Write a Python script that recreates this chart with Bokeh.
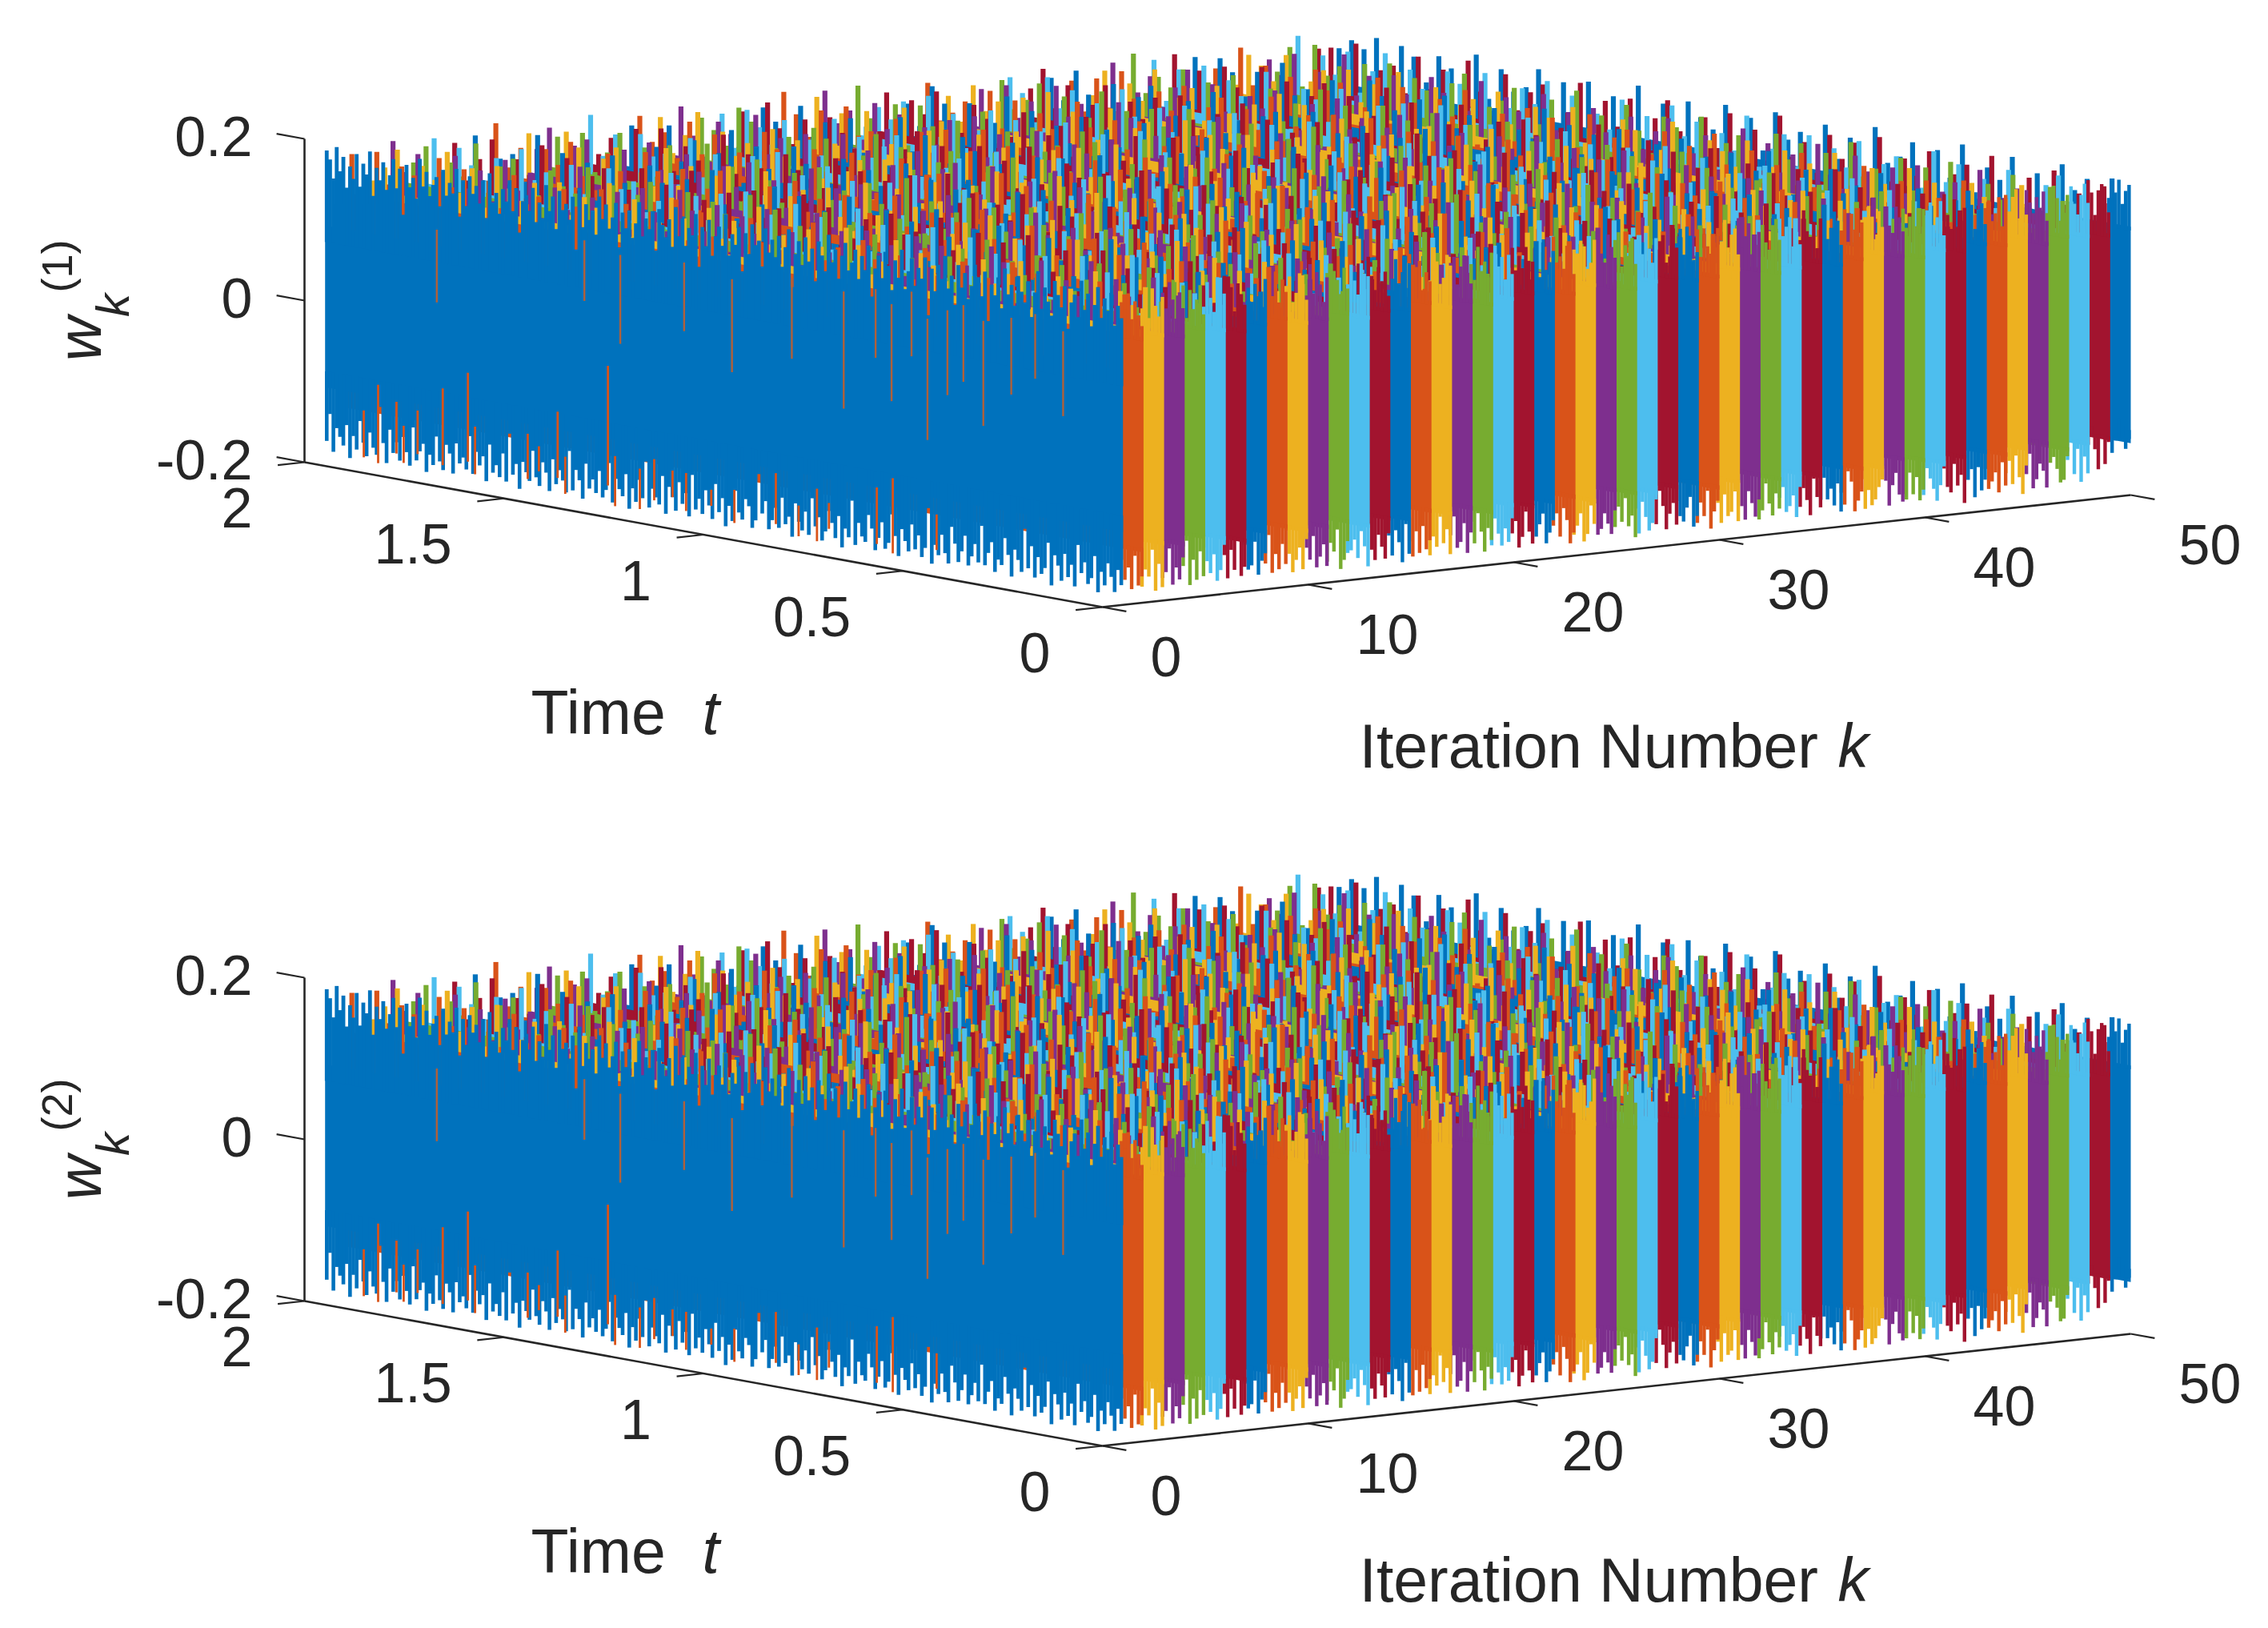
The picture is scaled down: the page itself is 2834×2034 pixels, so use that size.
from math import pi
from bokeh.plotting import figure
from bokeh.embed import file_html
from bokeh.resources import INLINE
from bokeh.core.properties import value

# --- data: hand estimates ---
series_colors = ["#0072BD", "#D95319", "#EDB120", "#7E2F8E", "#77AC30", "#4DBEEE", "#A2142F"]
k_ticks = [0, 10, 20, 30, 40, 50]
t_ticks = [0, 0.5, 1, 1.5, 2]
t_labels = ["0", "0.5", "1", "1.5", "2"]
z_ticks = [-0.2, 0, 0.2]
z_labels = ["-0.2", "0", "0.2"]

# k = 1 front curve: upper tips in units of 1/480, lower tips in units of 1/500, t from 0 to 2
front_up = [74,81,69,88,77,84,72,90,79,66,85,75,92,70,83,78,62,87,74,81,89,68,76,84,71,93,80,65,86,73,
79,88,70,82,76,91,67,85,74,80,58,87,72,83,90,77,69,84,75,88,64,81,73,92,78,86,70,83,55,89,
76,82,71,87,79,68,91,74,84,66,80,88,72,85,77,60,90,75,83,69,86,78,73,89,81,67,84,76,92,70,
79,87,63,82,74,88,71,85,77,57,91,80,68,86,73,83,75,89,66,81,78,90,72,84,61,87,76,82,69,93,
74,85,79,67,88,72,83,59,90,77,81,70,86,75,92,68,84,73,80,89,64,87,76,82,71,91,78,69,85,74,
83,62,88,79,72,86,77,90,67,81,75,84,70,93,56,87,73,82,78,89,66,85,76,91,71,80,68,88,74,83,
79,60,86,72,90,77,84,69,81,75,92,65,87,73,83,78,88,70,85,63,91,76,82,74,89,67,84,79,72,86,
77,93,69,81,75,88,58,85,73,90,80,71,87,76,83,66,92,78,84,70,89,74,81,68,86,77,91,72,83,88]
front_dn = [88,79,93,84,76,90,82,95,73,87,91,78,85,68,94,81,89,75,92,83,77,96,70,86,90,80,93,74,88,64,
91,84,78,95,82,72,89,86,94,76,83,91,67,90,79,87,93,75,85,92,81,71,94,88,77,90,84,96,62,87,
93,80,89,74,91,85,78,95,83,70,88,92,76,86,94,81,73,90,87,79,93,66,89,84,96,77,91,82,75,88,
94,80,86,69,92,78,90,85,74,95,83,88,72,91,79,87,93,76,84,60,89,94,81,77,90,86,73,92,83,96,
79,88,71,93,85,76,91,82,89,68,94,80,87,74,92,84,78,95,72,90,86,81,93,65,88,77,91,83,96,75,
89,85,79,94,70,87,92,76,90,82,88,73,95,84,78,91,67,93,86,80,89,74,94,83,77,92,87,71,90,85,
79,96,81,88,63,93,76,91,84,89,72,95,80,86,78,92,69,90,83,87,75,94,82,77,93,88,73,91,85,96,
79,84,90,70,94,86,77,92,81,88,74,95,83,61,91,87,78,93,85,72,90,82,96,76,89,84,79,94,71,88]
# orange / yellow curves showing through gaps of the front curve
gap_t = [1.903,1.867,1.821,1.803,1.768,1.705,1.642,1.624,1.492,1.464,1.417,1.398,1.291,1.273,1.211,1.175,1.129,1.095,1.032,0.974,0.870,0.813,0.767,0.737,0.617,0.577,0.467,
1.72,1.35,1.26,1.10,0.98,0.83,0.70,0.62,0.58,0.53,0.49,0.44,0.40,0.35,0.28,0.22,0.15]
gap_lo = [-0.188,-0.192,-0.176,-0.186,-0.172,-0.180,-0.170,-0.184,-0.178,-0.166,-0.170,-0.188,-0.168,-0.192,-0.190,-0.176,-0.168,-0.182,-0.170,-0.186,-0.178,-0.188,-0.190,-0.172,-0.180,-0.188,-0.174,
0.020,0.055,0.010,0.040,0.000,0.030,-0.020,0.050,0.000,0.060,-0.040,0.020,0.040,-0.010,0.035,0.060,0.020]
gap_hi = [-0.130,-0.095,-0.112,-0.140,-0.118,-0.085,-0.060,-0.125,-0.122,-0.135,-0.088,-0.142,-0.020,-0.130,-0.140,-0.125,-0.135,-0.135,-0.150,-0.145,-0.115,-0.150,-0.125,-0.140,-0.110,-0.095,-0.130,
0.110,0.130,0.120,0.125,0.115,0.130,0.125,0.135,0.120,0.140,0.110,0.125,0.135,0.120,0.130,0.140,0.125]
# solid body of every curve k = 1..50
core_hi = [0.090,0.128,0.130,0.126,0.132,0.128,0.124,0.130,0.134,0.126,0.128,0.132,0.124,0.130,0.128,0.134,0.126,0.130,0.124,0.128,0.132,0.130,0.126,0.134,0.128,0.124,0.130,0.132,0.126,0.128,
0.134,0.130,0.124,0.128,0.132,0.126,0.130,0.134,0.128,0.124,0.130,0.126,0.132,0.128,0.134,0.124,0.130,0.128,0.126,0.132]
core_lo = [-0.110,-0.138,-0.132,-0.136,-0.130,-0.134,-0.140,-0.132,-0.128,-0.136,-0.134,-0.130,-0.138,-0.132,-0.136,-0.128,-0.134,-0.130,-0.138,-0.132,-0.136,-0.134,-0.130,-0.138,-0.128,-0.134,-0.136,-0.132,-0.130,-0.138,
-0.134,-0.128,-0.136,-0.132,-0.138,-0.130,-0.134,-0.136,-0.128,-0.132,-0.138,-0.134,-0.130,-0.136,-0.132,-0.128,-0.138,-0.134,-0.130,-0.136]
# lower tips at the t = 0 end of k = 2..50, units of 1/500
tail_dn = [[84,90,72,93,80,88,76],[92,78,95,70,87,83,94],[75,89,82,93,71,86,90],[88,73,91,79,95,68,84],[70,86,93,77,89,82,74],[85,91,69,88,76,94,80],[78,83,92,72,87,90,75],
[86,74,90,81,93,70,88],[72,91,78,86,94,83,69],[90,77,85,92,73,88,81],[76,88,94,70,84,79,91],[93,81,72,89,78,85,87],[74,90,83,76,92,86,71],[88,70,94,82,75,91,79],
[81,87,73,90,77,93,84],[91,76,85,69,88,82,94],[79,92,74,86,90,71,83],[85,78,93,81,70,89,76],[73,88,80,91,84,75,92],[90,83,71,87,94,78,86],[77,85,92,74,81,89,70],
[86,93,79,72,90,76,84],[82,71,89,94,77,85,91],[75,90,84,78,88,92,73],[93,80,87,70,85,76,89],[71,86,91,83,74,94,79],[88,75,82,92,78,69,90],[84,91,73,80,89,86,77],
[76,83,94,71,87,79,92],[90,72,85,88,75,93,81],[78,89,81,74,92,84,70],[85,76,90,83,71,88,94],[73,92,79,86,90,75,82],[87,81,70,93,84,77,89],[91,74,88,78,85,72,86],
[80,86,93,75,69,90,83],[74,79,87,91,82,94,76],[89,85,72,80,93,78,71],[83,90,76,87,74,91,88],[70,82,92,85,79,73,90],[94,77,84,71,89,86,75],[81,88,74,93,76,83,70],
[86,72,91,79,85,90,78],[75,93,83,70,88,74,82],[90,80,76,86,92,71,84],[72,87,89,81,74,78,68],[84,74,90,70,86,64,78],[66,80,62,84,72,58,70],[60,72,58,54,68,76,62]]
# upper tips at the t = 0 end of k = 2..50, units of 1/480
tail_up = [[68,74,82,71,86,76,80],[84,72,78,88,70,82,75],[76,85,69,80,90,74,83],[71,88,79,73,84,67,86],[82,75,91,70,78,87,72],[74,80,86,69,83,76,89],[88,71,77,84,73,81,70],
[79,86,72,90,75,83,68],[73,82,88,76,70,85,79],[85,70,80,87,74,91,72],[77,89,73,81,86,69,84],[83,75,90,71,79,88,76],[70,84,78,86,72,80,91],[88,73,82,75,89,77,70],
[76,81,70,87,83,74,90],[84,90,76,72,85,79,73],[72,78,88,81,70,86,82],[89,74,83,77,91,71,80],[75,86,71,84,78,90,73],[81,70,89,76,83,72,87],[86,79,74,90,69,85,77],
[71,83,87,73,80,76,91],[90,76,72,85,88,70,82],[78,84,91,74,79,87,71],[73,88,77,83,70,90,85],[87,72,80,89,76,73,84],[80,91,74,70,86,82,75],[76,71,85,90,73,88,79],
[89,80,73,77,84,70,86],[72,87,83,75,91,78,74],[84,76,70,88,80,73,90],[78,90,86,71,75,85,69],[74,81,72,89,83,77,87],[88,70,84,76,79,91,73],[71,85,90,80,73,75,83],
[83,74,78,87,70,89,76],[79,88,71,84,90,72,81],[75,83,89,73,77,86,70],[87,72,76,91,81,74,85],[70,90,80,75,88,83,73],[85,77,73,89,71,79,91],[74,86,82,70,84,90,76],
[90,71,88,78,73,85,80],[77,83,74,91,86,70,84],[72,89,79,85,75,81,88],[86,75,70,83,90,77,73],[80,91,84,72,78,88,74],[73,78,89,85,70,83,90],[88,84,76,90,82,86,78]]
# upper tips of k = 2..50, t from 0 to 2, units of 1/480
tips = [
[72,85,61,90,78,66,83,58,88,74,92,63,80,69,87,55,76,91,71,84,60,79,89,65,82,73,94,57,86,68,77,90,62,81,75,88,70,93,59,83,67,85,72,91,64,78,87,56,80,74,90,69,84,61,88,76,92,66,79,83,71,89,73,85],
[60,88,76,83,69,92,57,79,85,72,64,90,81,74,87,62,93,70,78,84,58,89,75,66,82,91,68,77,86,61,80,73,94,65,83,71,88,56,79,90,74,67,85,63,92,76,81,69,87,59,84,72,78,90,64,86,70,93,75,82,60,89,77,68],
[83,70,91,64,77,86,59,94,72,80,67,89,75,61,84,92,69,78,57,87,73,90,65,82,76,88,62,85,71,93,58,79,67,90,74,83,60,87,70,81,92,66,76,89,63,84,72,78,95,68,80,58,86,74,91,65,82,70,88,77,61,85,73,90],
[77,62,87,74,93,68,81,56,90,79,71,85,63,88,75,82,60,92,69,84,78,66,89,73,95,59,83,70,86,64,91,76,80,67,87,61,93,72,79,85,57,88,74,65,90,81,69,84,62,92,75,78,86,70,60,89,83,66,94,73,80,68,87,76],
[91,68,79,84,60,87,73,95,65,82,76,89,58,70,85,63,92,77,81,67,88,72,59,90,75,83,62,86,69,93,78,66,84,71,89,56,80,74,91,64,87,70,83,61,94,76,68,85,79,90,63,72,88,58,81,75,92,66,84,69,77,86,60,89],
[65,89,72,81,94,61,76,86,69,83,57,91,78,64,87,73,80,92,60,85,70,88,67,75,93,62,82,79,90,58,84,71,66,87,77,92,63,81,74,89,68,85,59,78,94,72,83,65,90,76,61,86,80,70,88,57,93,74,82,67,91,78,64,85],
[80,73,58,93,66,85,78,62,90,71,87,75,95,60,83,69,77,89,64,82,56,91,74,86,68,79,94,61,84,72,88,65,76,92,59,81,70,87,63,90,78,83,67,74,93,57,85,71,80,89,62,76,91,69,84,60,87,73,95,66,81,77,58,88],
[69,92,84,60,78,89,72,55,86,80,65,93,74,83,70,90,61,87,76,64,91,82,68,79,95,58,85,73,88,62,77,94,66,81,71,89,59,84,75,92,63,86,70,80,57,90,78,67,87,74,83,93,61,79,88,65,72,91,76,84,59,82,69,94],
[87,64,75,91,70,83,57,88,79,62,94,73,85,67,80,90,59,76,84,71,93,63,87,78,66,89,56,82,74,92,60,86,69,81,77,95,65,72,88,61,84,79,68,91,75,58,90,83,64,86,73,94,70,77,62,89,81,67,85,93,60,74,88,71],
[58,82,93,71,86,66,79,90,62,85,74,88,60,95,77,69,83,91,64,75,87,57,80,92,70,84,61,89,76,67,93,73,81,59,88,78,65,90,72,85,63,94,79,68,83,56,91,75,86,61,80,89,70,77,92,64,85,73,60,87,82,69,90,76],
[75,90,66,81,59,88,73,94,64,79,85,70,92,57,83,76,61,89,72,86,68,93,78,60,82,91,65,74,87,55,90,80,69,84,63,95,71,77,88,62,81,74,92,58,86,67,79,90,64,83,72,94,60,76,89,69,85,56,91,78,65,87,73,82],
[84,57,79,91,67,76,88,61,93,72,82,64,87,78,59,90,70,85,74,95,62,81,68,89,77,55,92,83,66,75,86,60,91,73,80,64,94,69,87,58,78,84,71,90,61,82,76,93,66,88,57,74,85,70,92,63,80,77,89,59,86,72,95,65],
[63,78,86,72,92,58,84,69,90,75,81,62,94,67,87,73,56,89,80,70,85,60,93,76,65,83,88,71,57,91,74,82,66,86,79,95,61,70,90,77,84,59,87,68,92,73,64,81,89,56,78,85,72,94,62,76,83,67,91,58,88,74,80,69],
[92,70,61,85,77,94,64,80,73,89,56,83,68,91,75,86,63,78,90,59,72,87,81,66,94,60,76,84,69,92,57,88,74,79,65,90,83,62,86,71,93,67,77,85,58,89,73,60,82,91,68,75,87,64,94,79,56,84,70,90,76,61,86,72],
[71,84,93,59,76,66,89,81,60,87,74,92,69,78,55,85,90,64,82,73,88,58,95,70,79,86,62,91,75,67,83,57,89,72,94,61,80,77,65,87,85,59,92,74,69,81,90,63,76,88,71,56,84,93,66,78,60,86,73,91,68,82,75,89],
[59,93,74,81,87,63,70,90,78,56,85,67,92,72,83,61,88,76,94,65,79,86,58,84,71,90,62,77,89,69,82,95,60,74,87,66,91,73,80,57,85,78,64,93,70,86,61,83,75,90,68,59,88,77,92,63,81,72,85,56,94,79,67,87],
[88,67,80,56,91,75,84,62,93,70,79,87,59,73,90,65,82,77,95,60,86,71,68,89,57,83,76,92,64,81,74,87,61,94,69,85,78,58,90,72,66,88,83,63,91,75,80,56,86,70,93,62,77,89,67,84,73,95,59,81,87,65,76,92],
[76,60,89,68,83,94,57,79,86,72,63,91,81,74,66,88,93,58,77,85,70,62,90,80,73,95,65,84,56,87,71,92,75,61,82,89,67,78,94,59,86,73,69,91,83,60,76,88,64,93,79,71,57,85,90,66,82,74,61,87,94,70,78,84],
[66,85,77,92,61,74,88,70,57,83,90,64,79,94,72,86,59,81,75,91,67,87,60,78,84,93,63,71,89,56,82,76,90,68,85,74,95,62,80,87,65,92,73,58,84,77,89,69,61,91,83,75,86,64,94,71,79,57,88,72,81,90,66,85],
[81,74,59,87,93,69,77,62,90,84,71,56,89,76,92,65,83,79,60,94,73,86,67,88,58,80,91,75,63,85,70,93,78,61,87,66,82,89,57,74,95,69,84,72,90,62,77,86,59,92,80,68,88,64,75,83,91,56,87,71,79,93,67,85],
[55,90,78,66,85,81,73,94,60,88,69,82,76,92,63,86,71,58,90,79,84,65,93,74,61,87,77,89,68,83,57,91,72,85,64,80,94,70,75,88,59,86,67,92,78,62,83,90,73,56,87,76,95,65,81,70,89,60,84,74,91,68,79,86],
[90,72,84,63,78,91,56,86,74,68,93,80,61,87,70,83,95,59,76,89,65,82,73,92,57,85,79,67,90,62,88,75,81,69,94,60,84,71,87,64,77,91,58,83,72,86,66,93,79,61,89,74,85,56,90,68,80,76,92,63,87,70,82,94],
[68,80,91,75,57,87,65,83,92,71,78,60,89,74,85,63,94,69,81,77,56,90,86,72,62,88,79,93,66,75,84,59,91,70,87,64,82,76,95,61,73,89,67,85,78,57,92,81,69,86,74,60,90,83,65,94,71,77,88,58,84,72,91,63],
[79,94,62,86,70,83,75,58,91,67,88,77,64,93,81,56,85,72,90,60,78,87,69,95,74,63,84,89,57,82,71,92,66,76,86,59,90,80,73,65,94,68,83,87,61,75,91,56,79,85,70,93,64,88,72,81,58,86,76,90,67,83,74,92],
[86,61,73,88,79,65,92,70,84,57,90,76,81,60,95,68,87,74,62,89,83,72,56,91,77,85,66,93,71,80,59,88,75,64,90,82,69,86,58,94,78,73,63,87,92,67,81,76,89,60,84,70,93,57,85,74,79,90,65,88,61,77,95,71],
[64,87,75,93,56,81,89,68,77,85,62,91,73,80,94,59,86,70,66,83,90,76,60,88,72,92,65,79,84,57,93,74,87,61,82,69,90,77,63,85,71,95,58,80,89,67,76,92,62,84,73,88,56,91,78,66,85,70,93,60,87,75,81,68],
[93,77,69,82,60,90,72,86,58,79,94,65,84,71,88,62,76,91,57,83,74,89,67,80,60,92,85,70,78,56,95,73,87,63,81,90,68,75,84,59,91,77,64,88,72,83,61,94,69,86,79,56,90,74,66,82,89,71,62,93,78,85,60,87],
[70,83,56,91,76,64,87,93,61,80,72,89,67,85,78,59,94,74,82,63,90,69,86,57,77,92,73,84,60,88,66,81,95,71,75,58,89,83,65,91,70,79,87,62,93,56,76,85,68,90,73,82,64,88,59,94,77,71,86,61,83,92,67,79],
[85,58,94,72,81,67,90,77,63,88,55,83,74,92,69,79,87,60,91,71,84,65,95,76,62,89,73,82,58,86,90,68,77,83,61,93,74,57,87,80,70,92,64,85,78,60,90,72,88,67,81,95,56,76,84,63,89,71,92,59,83,75,69,90],
[57,76,88,65,93,70,84,79,60,91,74,86,58,82,95,68,77,90,63,85,72,87,56,93,80,67,89,75,61,92,83,70,57,88,76,94,66,84,73,90,60,79,86,69,92,74,62,87,82,56,91,71,78,85,64,94,70,88,60,83,76,90,67,81],
[82,91,68,77,60,86,73,95,65,80,57,89,75,84,62,92,71,78,88,59,83,69,94,74,61,87,79,66,90,72,85,56,93,77,64,88,70,82,91,60,75,86,67,94,73,80,58,89,76,63,84,92,69,57,87,78,95,66,83,72,90,61,85,74],
[73,66,89,82,93,59,78,71,87,62,92,80,68,85,56,90,76,83,64,94,72,88,60,79,86,69,91,57,84,75,93,63,81,70,89,58,77,95,67,85,74,61,90,83,72,87,65,92,56,79,88,71,84,60,93,76,68,86,62,91,80,73,89,64],
[89,75,60,84,70,94,64,87,56,79,91,72,83,66,88,76,59,93,69,81,85,62,90,74,77,95,58,82,68,87,71,92,60,86,75,65,89,79,57,94,83,70,88,63,76,91,67,84,59,90,73,86,61,78,93,69,82,56,87,75,92,64,80,88],
[62,86,79,70,91,57,83,75,90,66,84,60,94,77,72,88,63,81,92,58,76,87,69,85,61,93,74,80,56,89,67,83,95,71,78,62,90,86,59,73,91,68,82,76,87,64,94,57,85,70,79,92,61,88,74,83,66,90,77,56,86,71,93,80],
[78,93,71,58,87,82,65,91,74,61,89,77,85,57,94,70,83,66,90,73,60,88,79,92,64,76,86,56,91,81,68,84,72,95,59,87,75,63,90,78,83,66,93,61,74,89,85,58,80,71,94,67,86,76,60,91,83,69,88,57,79,92,73,85],
[91,60,82,74,67,88,94,59,76,85,70,92,63,81,87,56,90,73,78,65,93,84,61,72,89,77,58,86,94,68,80,75,91,62,85,71,88,57,83,92,66,76,90,60,87,79,69,94,73,84,56,88,81,63,91,75,85,59,78,93,70,86,65,82],
[74,83,59,90,77,66,92,85,62,79,87,56,94,71,82,68,89,75,60,91,84,72,57,88,78,93,65,80,86,61,74,95,69,83,76,58,90,87,64,81,73,92,60,85,67,78,89,56,93,71,84,62,76,91,69,87,80,58,94,74,83,65,88,72],
[59,88,92,67,80,73,86,60,94,76,69,84,90,57,78,87,64,91,72,83,61,75,93,68,85,56,89,79,70,92,62,82,88,74,58,86,77,95,65,71,90,81,60,84,76,93,63,87,70,57,91,79,85,67,73,88,61,94,82,69,86,75,59,90],
[87,69,78,93,61,84,71,55,90,82,75,64,92,86,58,79,73,88,66,95,70,83,60,87,76,91,63,81,57,89,74,85,68,94,72,62,88,80,59,91,77,84,66,90,73,56,86,79,93,64,82,70,88,61,75,92,68,85,57,90,78,83,72,94],
[65,80,87,73,91,58,76,94,69,84,62,89,77,71,92,56,85,81,67,90,74,60,93,83,70,88,64,78,86,57,91,72,82,95,61,75,87,68,84,59,93,79,73,90,65,86,76,58,92,71,83,88,63,80,94,69,77,85,60,91,74,86,66,89],
[83,72,64,89,76,92,57,81,86,68,94,60,78,90,73,85,62,88,70,56,93,80,75,87,66,91,59,84,77,95,69,72,89,61,82,90,65,86,74,57,92,79,83,68,88,60,94,76,71,85,63,90,81,58,87,73,93,67,78,89,62,84,70,91],
[70,92,85,61,79,88,66,74,93,58,83,77,90,63,87,71,56,94,81,75,89,60,84,68,92,73,86,64,79,91,57,85,72,88,62,95,76,80,67,90,59,83,74,92,69,87,61,78,85,93,56,72,89,65,81,76,94,60,86,70,83,90,63,88],
[60,84,75,94,68,81,90,57,87,73,62,92,79,86,66,74,93,59,83,71,89,64,78,95,70,85,56,91,76,67,88,82,61,93,72,80,87,58,90,69,84,75,63,94,77,86,60,81,89,66,92,73,57,85,79,90,68,83,62,87,74,95,71,80],
[94,77,62,83,90,71,58,86,75,92,65,80,88,60,73,93,68,84,56,89,78,63,91,74,82,87,59,70,94,76,66,85,90,61,79,72,92,57,83,88,67,75,93,60,86,81,70,89,64,77,94,58,84,72,90,66,87,79,61,92,75,83,88,69],
[76,63,88,81,70,95,59,85,78,66,91,73,87,56,82,90,69,76,93,61,84,72,88,60,94,79,67,86,74,58,92,83,71,89,64,77,90,57,85,73,93,62,80,87,69,94,75,59,83,91,66,78,88,61,85,72,95,70,82,57,90,76,84,65],
[82,89,70,60,92,76,84,65,79,93,57,87,72,90,62,81,75,94,68,85,59,88,77,91,63,73,86,80,56,93,70,84,89,66,78,92,60,83,74,95,67,87,71,58,90,81,76,64,93,86,69,79,85,61,91,72,88,56,84,77,94,68,90,74],
[69,79,93,86,58,74,91,67,83,60,89,77,94,71,64,87,81,56,92,75,85,62,90,70,88,78,66,95,73,82,59,86,76,93,61,84,68,91,72,80,57,88,65,94,79,87,74,60,92,70,83,89,63,76,86,58,93,81,67,90,75,85,62,94],
[88,66,81,73,92,60,85,77,70,94,63,86,79,57,90,74,83,68,93,61,87,76,89,65,82,72,95,58,84,78,91,69,86,62,75,92,80,56,89,71,85,67,93,74,60,88,82,70,90,64,77,94,59,86,73,91,68,83,79,62,92,76,87,85],
[75,90,64,87,79,93,70,85,60,92,77,83,67,94,73,88,62,90,80,75,95,66,86,72,91,59,84,78,93,69,87,64,92,76,82,90,71,86,61,94,79,85,68,91,74,88,63,93,81,77,89,70,95,66,84,90,73,87,92,78,94,86,90,84],
[86,78,92,70,88,95,74,90,66,94,82,87,72,93,79,89,63,91,84,76,95,70,88,81,92,67,86,90,75,94,83,71,89,93,78,85,68,92,87,74,95,80,90,65,93,84,88,77,94,72,90,86,82,95,79,91,74,88,93,84,96,90,97,88],
]

# --- projection of the reference's 3-D view ---
def X(k, t):
    return 1377 + 25.7 * k - 498.5 * t

def Y(k, t, z, off):
    return off + 758 - 2.8 * k - 90.5 * t - 1010 * (z + 0.2)

p = figure(width=2818, height=2018, x_range=(0, 2818), y_range=(2018, 0),
           output_backend="svg", toolbar_location=None, min_border=0,
           outline_line_color=None)
p.axis.visible = False
p.grid.visible = False
p.background_fill_color = "white"

DARK = "#262626"
FONT = value("Liberation Sans")

def spikes(k, ts, z0, z1, off, color, width):
    xs = [X(k, t) for t in ts]
    y0 = [Y(k, t, a, off) for t, a in zip(ts, z0)]
    y1 = [Y(k, t, b, off) for t, b in zip(ts, z1)]
    p.segment(xs, y0, xs, y1, line_color=color, line_width=width)

def label(x, y, s, size, align="left", style="normal", angle=0.0, baseline="middle"):
    p.text([x], [y], text=[s], text_font=FONT, text_font_size=f"{size}px", text_color=DARK,
           text_align=align, text_baseline=baseline, text_font_style=style, angle=angle)

def draw_panel(off, sup, iter_y):
    for k in range(50, 0, -1):
        color = series_colors[(k - 1) % 7]
        hi, lo = core_hi[k - 1], core_lo[k - 1]
        px = [X(k, 0), X(k, 2), X(k, 2), X(k, 0)]
        py = [Y(k, 0, hi, off), Y(k, 2, hi, off), Y(k, 2, lo, off), Y(k, 0, lo, off)]
        p.patch(px, py, fill_color=color, line_color=None)
        if k == 1:
            n = len(front_up)
            ts = [2 * (i + 0.5) / n for i in range(n)]
            spikes(1, ts, [hi - 0.02] * n, [v / 480 for v in front_up], off, color, 4.8)
            n = len(front_dn)
            ts = [2 * (i + 0.5) / n for i in range(n)]
            spikes(1, ts, [lo + 0.02] * n, [-v / 500 for v in front_dn], off, color, 4.6)
            spikes(1, gap_t[:27], gap_lo[:27], gap_hi[:27], off, "#D95319", 2.8)
            spikes(1, gap_t[27:], gap_lo[27:], gap_hi[27:], off, "#B0603A", 2.4)
        else:
            row = tips[k - 2]
            n = len(row)
            ts = [2 * (i + 0.5) / n for i in range(n)]
            spikes(k, ts, [hi - 0.005] * n, [v / 480 for v in row], off, color, 6.2)
            m = len(tail_dn[k - 2])
            ts = [(i + 0.5) * 0.0085 for i in range(m)]
            spikes(k, ts, [lo + 0.005] * m, [-v / 500 for v in tail_dn[k - 2]], off, color, 4.4)
            spikes(k, ts, [hi - 0.005] * m, [v / 480 for v in tail_up[k - 2]], off, color, 4.4)

    # box edges
    p.line([X(0, 2), X(0, 2)], [Y(0, 2, 0.2, off), Y(0, 2, -0.2, off)], line_color=DARK, line_width=2.6)
    p.line([X(0, 2), X(0, 0)], [Y(0, 2, -0.2, off), Y(0, 0, -0.2, off)], line_color=DARK, line_width=2.6)
    p.line([X(0, 0), X(50, 0)], [Y(0, 0, -0.2, off), Y(50, 0, -0.2, off)], line_color=DARK, line_width=2.6)

    for z, s in zip(z_ticks, z_labels):
        p.line([X(0, 2), X(0, 2.07)], [Y(0, 2, z, off), Y(0, 2.07, z, off)], line_color=DARK, line_width=2.2)
        label(315, Y(0, 2, z, off) - 3, s, 70, "right")
    for t, s in zip(t_ticks, t_labels):
        p.line([X(0, t), X(-1.3, t)], [Y(0, t, -0.2, off), Y(-1.3, t, -0.2, off)], line_color=DARK, line_width=2.2)
        label(X(0, t) - 65, Y(0, t, -0.2, off) + 57, s, 70, "right")
    for k in k_ticks:
        p.line([X(k, 0), X(k, -0.06)], [Y(k, 0, -0.2, off), Y(k, -0.06, -0.2, off)], line_color=DARK, line_width=2.2)
        label(X(k, 0) + 60, Y(k, 0, -0.2, off) + 62, str(k), 70)

    label(663, off + 889, "Time", 77)
    label(877, off + 889, "t", 77, style="italic")
    label(1698, iter_y, "Iteration Number", 77)
    label(2296, iter_y, "k", 77, style="italic")
    label(98, off + 423, "w", 77, "center", "italic", pi / 2)
    label(140, off + 381, "k", 58, "center", "italic", pi / 2)
    label(70, off + 332, f"({sup})", 54, "center", "normal", pi / 2)

draw_panel(0, "1", 931)
draw_panel(1048, "2", 1973)

open("out.html", "w").write(file_html(p, INLINE))
